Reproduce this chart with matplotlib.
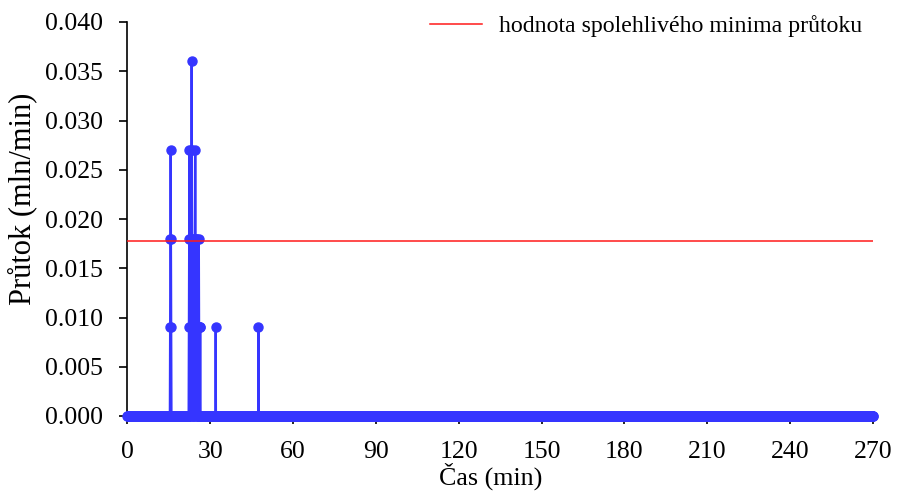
import numpy as np
import matplotlib
matplotlib.use("Agg")
import matplotlib.pyplot as plt

# ---- data ----
time_step = 0.1          # min, sampling step of the record
time_end = 270.0         # min
# non-zero samples (time in min, flow in mln/min); all other samples are 0
spike_times = [15.5, 15.6, 15.7, 15.8, 15.9,
               22.3, 22.4, 22.5, 22.6, 22.7,
               23.0, 23.1, 23.2, 23.3, 23.4, 23.5, 23.6,
               23.8, 24.0, 24.1, 24.2,
               24.4, 24.5, 24.6, 24.7, 24.8,
               25.0, 25.2, 25.3, 25.4, 25.6,
               25.8, 25.9, 26.0, 26.2, 26.4,
               32.0, 47.5]
spike_values = [0.009, 0.018, 0.027, 0.018, 0.009,
                0.009, 0.018, 0.027, 0.018, 0.009,
                0.009, 0.018, 0.027, 0.036, 0.027, 0.018, 0.009,
                0.009, 0.009, 0.018, 0.009,
                0.009, 0.018, 0.027, 0.018, 0.009,
                0.009, 0.009, 0.018, 0.009, 0.009,
                0.009, 0.018, 0.009, 0.009, 0.009,
                0.009, 0.009]
min_flow = 0.0178        # hodnota spolehlivého minima průtoku
x_ticks = [0, 30, 60, 90, 120, 150, 180, 210, 240, 270]
y_ticks = [0.000, 0.005, 0.010, 0.015, 0.020, 0.025, 0.030, 0.035, 0.040]

n = int(round(time_end / time_step)) + 1
t = np.arange(n) * time_step
flow = np.zeros(n)
for st, sv in zip(spike_times, spike_values):
    flow[int(round(st / time_step))] = sv

plt.rcParams['font.family'] = ['Liberation Serif', 'DejaVu Serif']

W, H = 898, 495
fig = plt.figure(figsize=(W / 100, H / 100), dpi=100)
ax_l, ax_r, ax_t, ax_b = 127.3, 873.0, 22.0, 416.0
ax = fig.add_axes([ax_l / W, 1 - ax_b / H, (ax_r - ax_l) / W, (ax_b - ax_t) / H])

blue = '#3535ff'
ax.plot(t, flow, color=blue, lw=1.6, marker='o', ms=6.5, mec=blue, mfc=blue,
        clip_on=False, zorder=3)
ax.plot([0, time_end], [min_flow, min_flow], color='#ff1a1a', lw=1.1,
        label='hodnota spolehlivého minima průtoku', zorder=4)

ax.set_xlim(0, 270)
ax.set_ylim(0, 0.04)
ax.set_xticks(x_ticks)
ax.set_yticks(y_ticks)
ax.set_yticklabels([f'{v:.3f}' for v in y_ticks])
ax.tick_params(axis='both', labelsize=18.5, direction='out', length=5.8,
               width=1.2, colors='black')
ax.tick_params(axis='x', pad=12.5)
ax.tick_params(axis='y', pad=12.0)
for s in ['top', 'right']:
    ax.spines[s].set_visible(False)
ax.spines['left'].set_linewidth(1.2)
ax.spines['bottom'].set_linewidth(1.2)

ax.set_xlabel('Čas (min)', fontsize=18.7)
ax.xaxis.set_label_coords((491 - ax_l) / (ax_r - ax_l), (ax_b - 476) / (ax_b - ax_t))
ax.xaxis.label.set_verticalalignment('center')
ax.set_ylabel('Průtok (mln/min)', fontsize=22)
ax.yaxis.set_label_coords((22 - ax_l) / (ax_r - ax_l), (ax_b - 199) / (ax_b - ax_t))
ax.yaxis.label.set_verticalalignment('center')

ax.legend(loc='upper right', frameon=False, fontsize=17.2,
          bbox_to_anchor=(862 / W, 1 - 15 / H), bbox_transform=fig.transFigure,
          borderaxespad=0, borderpad=0, handlelength=2.2, handletextpad=0.7)

fig.savefig('out.png', dpi=100)
